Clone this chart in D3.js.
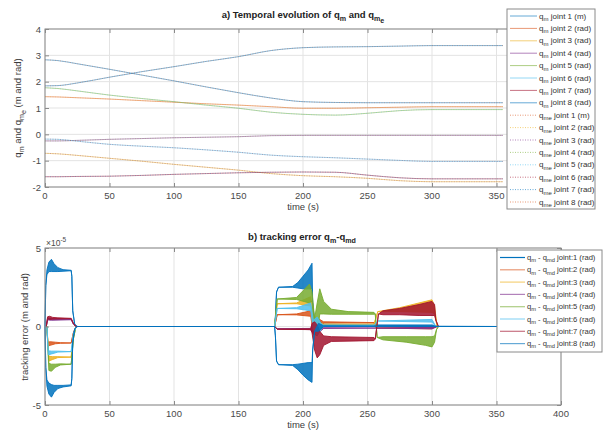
<html>
<head>
<script src="https://d3js.org/d3.v7.min.js"></script>
<style>
body { margin: 0; background: #fff; }
svg text { font-family: "Liberation Sans", Arial, sans-serif; }
</style>
</head>
<body>
<svg id="chart" width="607" height="430"></svg>
<script>
// ---- data: panel a) joint positions (read off the figure) ----
var timeA = [0, 10, 25, 50, 75, 100, 125, 150, 175, 200, 225, 250, 275, 300, 325, 355];
var qJoint1 = [2.83, 2.80, 2.68, 2.47, 2.25, 2.03, 1.80, 1.58, 1.38, 1.24, 1.21, 1.20, 1.20, 1.20, 1.20, 1.20];
var qJoint2 = [1.43, 1.42, 1.39, 1.34, 1.28, 1.22, 1.16, 1.11, 1.05, 0.99, 0.99, 1.01, 1.03, 1.05, 1.05, 1.05];
var qJoint3 = [-0.72, -0.74, -0.80, -0.91, -1.02, -1.14, -1.25, -1.36, -1.49, -1.57, -1.61, -1.67, -1.76, -1.80, -1.80, -1.80];
var qJoint4 = [-0.25, -0.25, -0.23, -0.19, -0.16, -0.13, -0.11, -0.09, -0.05, -0.04, -0.04, -0.04, -0.04, -0.04, -0.04, -0.04];
var qJoint5 = [1.77, 1.74, 1.65, 1.49, 1.36, 1.24, 1.11, 0.99, 0.84, 0.76, 0.73, 0.80, 0.90, 0.94, 0.94, 0.94];
var qJoint6 = [-0.18, -0.19, -0.26, -0.38, -0.45, -0.51, -0.59, -0.68, -0.79, -0.85, -0.89, -0.94, -0.99, -1.03, -1.03, -1.03];
var qJoint7 = [-1.61, -1.61, -1.60, -1.59, -1.56, -1.52, -1.49, -1.46, -1.44, -1.43, -1.44, -1.55, -1.65, -1.69, -1.69, -1.69];
var qJoint8 = [1.84, 1.85, 1.95, 2.17, 2.38, 2.57, 2.77, 2.95, 3.18, 3.29, 3.32, 3.33, 3.35, 3.37, 3.37, 3.37];

// ---- data: panel b) tracking error envelopes [time, low, high] in units of 1e-5 ----
var err1 = [[0,0,0],[0.6,2.6,2.6],[1.5,3.3,3.6],[3,3.5,4.1],[5,3.5,4.28],[7,3.5,4.0],[10,3.5,3.75],[14,3.52,3.62],[20.3,3.55,3.58],
  [20.8,3.2,3.2],[21.5,1.0,1.0],[23,0.15,0.15],[25,0,0],[178,0,0],[178.6,0.6,0.6],[179.5,2.2,2.2],[181,2.5,2.5],[192,2.5,2.55],
  [196,2.45,2.8],[200,2.4,3.2],[204,2.4,3.6],[207,2.4,4.03],[207.5,1.5,1.5],[209,0.3,0.3],[212,-0.2,0.4],[216,0.05,0.15],
  [255,0.05,0.1],[300,0.02,0.1],[305,0,0],[355,0,0]];
var err2 = [[1.5,0,0],[2.2,-1.25,-1.0],[4,-1.2,-0.97],[8,-1.1,-1.0],[12,-1.07,-1.03],[20.3,-1.05,-1.05],[22,-0.4,-0.4],[24,0,0],
  [178,0,0],[180,0.75,0.75],[195,0.74,0.8],[206,0.65,1.0],[208,-0.5,0.2],[212,-0.3,0.5],[216,0.22,0.3],[255,0.22,0.25],
  [257,-0.1,-0.1],[300,-0.15,-0.05],[304,0,0]];
var err3 = [[1.5,0,0],[3,-2.2,-1.9],[6,-2.1,-1.92],[10,-1.98,-1.92],[20.3,-1.95,-1.95],[22,-0.6,-0.6],[24,0,0],
  [178,0,0],[180,1.45,1.45],[195,1.45,1.5],[206,1.3,1.9],[208,-0.3,0.5],[212,-0.2,0.3],[216,0.1,0.15],[255,0.1,0.15],
  [258,0.95,0.95],[275,0.95,1.2],[300,0.9,1.7],[302,0.8,1.3],[304,0,0]];
var err4 = [[1,0,0],[2,0.42,0.55],[5,0.4,0.5],[20.3,0.43,0.45],[22,0.15,0.15],[24,0,0],[178,0,0],[180,-0.15,-0.15],
  [206,-0.2,-0.12],[208,-0.5,0.3],[212,-0.4,0.2],[216,-0.12,-0.08],[255,-0.1,-0.1],[258,-0.1,-0.1],[300,-0.15,-0.05],[304,0,0]];
var err5 = [[1.5,0,0],[3,-2.8,-2.35],[5,-2.85,-2.4],[8,-2.6,-2.4],[12,-2.45,-2.38],[20.3,-2.4,-2.4],[22,-0.8,-0.8],[24,0,0],
  [178,0,0],[180,1.75,1.75],[195,1.72,1.85],[205,1.5,2.7],[207,1.6,2.2],[209,-0.5,0.5],[211,-0.6,1.5],[213,0.8,2.4],
  [216,0.8,1.6],[222,0.78,1.1],[235,0.78,0.95],[255,0.78,0.9],[256,0.8,0.8],[257.5,-0.7,-0.7],[262,-0.85,-0.65],
  [280,-1.0,-0.65],[295,-1.2,-0.65],[300,-1.3,-0.65],[302,-1.0,-0.6],[303.5,-0.2,-0.2],[305,0,0]];
var err6 = [[1.5,0,0],[2.5,-1.8,-1.55],[5,-1.75,-1.57],[10,-1.63,-1.57],[20.3,-1.6,-1.6],[22,-0.5,-0.5],[24,0,0],
  [178,0,0],[180,1.15,1.15],[195,1.13,1.2],[206,1.0,1.5],[208,-0.2,0.4],[211,-0.6,0.6],[214,-0.2,0.2],[216,0.05,0.1],
  [255,0.05,0.1],[258,0.35,0.35],[300,0.28,0.45],[303,0,0]];
var err7 = [[1,0,0],[2,0.5,0.62],[3.5,0.45,0.65],[6,0.47,0.58],[10,0.48,0.55],[20.3,0.5,0.52],[22,0.2,0.2],[24,0,0],
  [178,0,0],[180,-0.17,-0.17],[206,-0.2,-0.15],[207,-0.4,0.2],[209,-1.5,0.3],[211,-2.0,0.1],[213,-1.8,-0.3],
  [216,-1.2,-0.6],[222,-0.95,-0.65],[255,-0.9,-0.7],[256,-0.8,-0.8],[258.5,0.8,0.8],[262,0.75,1.0],[275,0.75,1.15],
  [290,0.7,1.4],[300,0.7,1.6],[302,0.7,1.4],[303,0.4,0.4],[305,0,0]];
var err8 = [[0,0,0],[0.6,-2.6,-2.6],[1.5,-3.8,-3.4],[3,-4.3,-3.6],[5,-4.5,-3.7],[7,-4.2,-3.75],[10,-3.95,-3.75],[14,-3.85,-3.75],
  [20.3,-3.78,-3.72],[20.8,-3.3,-3.3],[21.5,-1.0,-1.0],[23,-0.15,-0.15],[25,0,0],[178,0,0],[178.6,-0.6,-0.6],
  [179.5,-2.2,-2.2],[181,-2.43,-2.43],[192,-2.48,-2.43],[196,-2.75,-2.4],[200,-3.1,-2.35],[204,-3.4,-2.3],[207,-3.56,-2.3],
  [207.5,-1.5,-1.5],[209,-0.3,-0.3],[212,-0.3,0.2],[216,0,0.05],[355,0,0]];

var xTicks = [0, 50, 100, 150, 200, 250, 300, 350, 400];
var xLabelsA = [0, 50, 100, 150, 200, 250, 300, 350]; // 400 sits under the legend
var yTicksA = [-2, -1, 0, 1, 2, 3, 4];
var yTicksB = [-5, 0, 5];
var jointNames = ["joint 1 (m)", "joint 2 (rad)", "joint 3 (rad)", "joint 4 (rad)", "joint 5 (rad)", "joint 6 (rad)", "joint 7 (rad)", "joint 8 (rad)"];
var errNames = ["joint:1 (rad)", "joint:2 (rad)", "joint:3 (rad)", "joint:4 (rad)", "joint:5 (rad)", "joint:6 (rad)", "joint:7 (rad)", "joint:8 (rad)"];

// matlab default line colours
var colors = ["#0072BD", "#D95319", "#EDB120", "#7E2F8E", "#77AC30", "#4DBEEE", "#A2142F"];
function col(i) { return colors[i % 7]; }

var svg = d3.select("#chart");

var x = d3.scaleLinear().domain([0, 400]).range([45, 561]);
var yA = d3.scaleLinear().domain([-2, 4]).range([187, 29]);
var yB = d3.scaleLinear().domain([-5, 5]).range([405, 248]);

// writes text with sub/sub-sub scripts: parts = [[string, level]]
function rich(t, parts, size) {
  var cur = 0;
  parts.forEach(function(p) {
    var shift = [0, 3, 5][p[1]] * size / 10;
    t.append("tspan").attr("dy", shift - cur)
      .style("font-size", (p[1] == 0 ? size : size * 0.75) + "px")
      .text(p[0]);
    cur = shift;
  });
}

function drawGrid(y, yTicks, top, bottom) {
  var g = svg.append("g");
  g.selectAll(".vg").data(xTicks).enter().append("line")
    .attr("x1", d => x(d)).attr("x2", d => x(d)).attr("y1", top).attr("y2", bottom)
    .attr("stroke", "#e3e3e3").attr("stroke-width", 1);
  g.selectAll(".hg").data(yTicks).enter().append("line")
    .attr("x1", 45).attr("x2", 561).attr("y1", d => y(d)).attr("y2", d => y(d))
    .attr("stroke", "#e3e3e3").attr("stroke-width", 1);
}

function drawFrame(y, yTicks, top, bottom, xLabels) {
  var g = svg.append("g");
  g.append("rect").attr("x", 45).attr("y", top).attr("width", 516).attr("height", bottom - top)
    .attr("fill", "none").attr("stroke", "#8a8a8a").attr("stroke-width", 1);
  // inward ticks, mirrored on top / right
  g.append("g").attr("transform", "translate(0," + bottom + ")")
    .call(d3.axisTop(x).tickValues(xTicks).tickSize(4).tickFormat(""))
    .call(s => s.select(".domain").remove()).selectAll("line").attr("stroke", "#8a8a8a");
  g.append("g").attr("transform", "translate(0," + top + ")")
    .call(d3.axisBottom(x).tickValues(xTicks).tickSize(4).tickFormat(""))
    .call(s => s.select(".domain").remove()).selectAll("line").attr("stroke", "#8a8a8a");
  g.append("g").attr("transform", "translate(45,0)")
    .call(d3.axisRight(y).tickValues(yTicks).tickSize(4).tickFormat(""))
    .call(s => s.select(".domain").remove()).selectAll("line").attr("stroke", "#8a8a8a");
  g.append("g").attr("transform", "translate(561,0)")
    .call(d3.axisLeft(y).tickValues(yTicks).tickSize(4).tickFormat(""))
    .call(s => s.select(".domain").remove()).selectAll("line").attr("stroke", "#8a8a8a");
  // labels
  g.selectAll(".xl").data(xLabels).enter().append("text")
    .attr("x", d => x(d)).attr("y", bottom + 12).attr("text-anchor", "middle")
    .style("font-size", "9.5px").attr("fill", "#4a4a4a").text(d => d);
  g.selectAll(".yl").data(yTicks).enter().append("text")
    .attr("x", 41).attr("y", d => y(d) + 3.5).attr("text-anchor", "end")
    .style("font-size", "9.5px").attr("fill", "#4a4a4a").text(d => d);
  g.append("text").attr("x", 303).attr("y", bottom + 23).attr("text-anchor", "middle")
    .style("font-size", "9.5px").attr("fill", "#3a3a3a").text("time (s)");
}

// ---- panel a ----
drawGrid(yA, yTicksA, 29, 187);
var qSeries = [qJoint1, qJoint2, qJoint3, qJoint4, qJoint5, qJoint6, qJoint7, qJoint8];
var lineA = d3.line().x((d, i) => x(timeA[i])).y(d => yA(d)).curve(d3.curveMonotoneX);
svg.append("g").selectAll("path").data(qSeries).enter().append("path")
  .attr("d", lineA).attr("fill", "none").attr("stroke", (d, i) => col(i))
  .attr("stroke-width", 1).attr("stroke-opacity", 0.5);
svg.append("g").selectAll("path").data(qSeries).enter().append("path")
  .attr("d", lineA).attr("fill", "none").attr("stroke", (d, i) => col(i + 8))
  .attr("stroke-width", 1).attr("stroke-dasharray", "1,1.5").attr("stroke-opacity", 0.35);
drawFrame(yA, yTicksA, 29, 187, xLabelsA);

var titleA = svg.append("text").attr("x", 303).attr("y", 18).attr("text-anchor", "middle")
  .style("font-weight", "bold").attr("fill", "#222");
rich(titleA, [["a) Temporal evolution of q", 0], ["m", 1], [" and q", 0], ["m", 1], ["e", 2]], 9.5);

var ylabA = svg.append("text").attr("transform", "translate(21,108) rotate(-90)").attr("text-anchor", "middle")
  .attr("fill", "#3a3a3a");
rich(ylabA, [["q", 0], ["m", 1], [" and q", 0], ["m", 1], ["e", 2], ["  (m and rad)", 0]], 9.5);

// ---- panel b ----
drawGrid(yB, yTicksB, 248, 405);
var errSeries = [err1, err2, err3, err4, err5, err6, err7, err8];
var areaB = d3.area().x(d => x(d[0])).y0(d => yB(d[1])).y1(d => yB(d[2]));
svg.append("g").selectAll("path").data(errSeries).enter().append("path")
  .attr("d", areaB).attr("fill", (d, i) => col(i)).attr("fill-opacity", 0.85)
  .attr("stroke", (d, i) => col(i)).attr("stroke-width", 0.9).attr("stroke-linejoin", "round");
drawFrame(yB, yTicksB, 248, 405, xTicks);

var titleB = svg.append("text").attr("x", 302).attr("y", 240).attr("text-anchor", "middle")
  .style("font-weight", "bold").attr("fill", "#222");
rich(titleB, [["b) tracking error q", 0], ["m", 1], ["-q", 0], ["md", 1]], 9.5);

var exp = svg.append("text").attr("x", 46).attr("y", 246).attr("fill", "#4a4a4a");
rich(exp, [["\u00d710", 0]], 8.5);
exp.append("tspan").attr("dy", -4).style("font-size", "6.5px").text("-5");

svg.append("text").attr("transform", "translate(28,327) rotate(-90)").attr("text-anchor", "middle")
  .style("font-size", "9.5px").attr("fill", "#3a3a3a").text("tracking error (m and rad)");

// ---- legends ----
function legendBox(x0, y0, w, h) {
  svg.append("rect").attr("x", x0).attr("y", y0).attr("width", w).attr("height", h)
    .attr("fill", "#fff").attr("stroke", "#8a8a8a").attr("stroke-width", 1);
}

legendBox(507, 9, 88, 200);
var legA = [];
jointNames.forEach((n, i) => legA.push({ sub: "m", name: n, color: col(i), dash: null }));
jointNames.forEach((n, i) => legA.push({ sub: "me", name: n, color: col(i + 8), dash: "1,1.5" }));
legA.forEach(function(d, i) {
  var yy = 16 + i * 12.4;
  svg.append("line").attr("x1", 510).attr("x2", 537).attr("y1", yy).attr("y2", yy)
    .attr("stroke", d.color).attr("stroke-opacity", 0.6).attr("stroke-width", 1)
    .attr("stroke-dasharray", d.dash);
  var t = svg.append("text").attr("x", 539).attr("y", yy + 2.5).attr("fill", "#333");
  rich(t, [["q", 0], [d.sub, 1], [" " + d.name, 0]], 8);
});

legendBox(497, 250, 105, 102);
errNames.forEach(function(n, i) {
  var yy = 257.5 + i * 12.3;
  svg.append("line").attr("x1", 500).attr("x2", 525).attr("y1", yy).attr("y2", yy)
    .attr("stroke", col(i)).attr("stroke-opacity", i == 0 ? 1 : 0.6).attr("stroke-width", 1.2);
  var t = svg.append("text").attr("x", 527).attr("y", yy + 2.5).attr("fill", "#333");
  rich(t, [["q", 0], ["m", 1], [" - q", 0], ["md", 1], [" " + n, 0]], 7.6);
});
</script>
</body>
</html>
